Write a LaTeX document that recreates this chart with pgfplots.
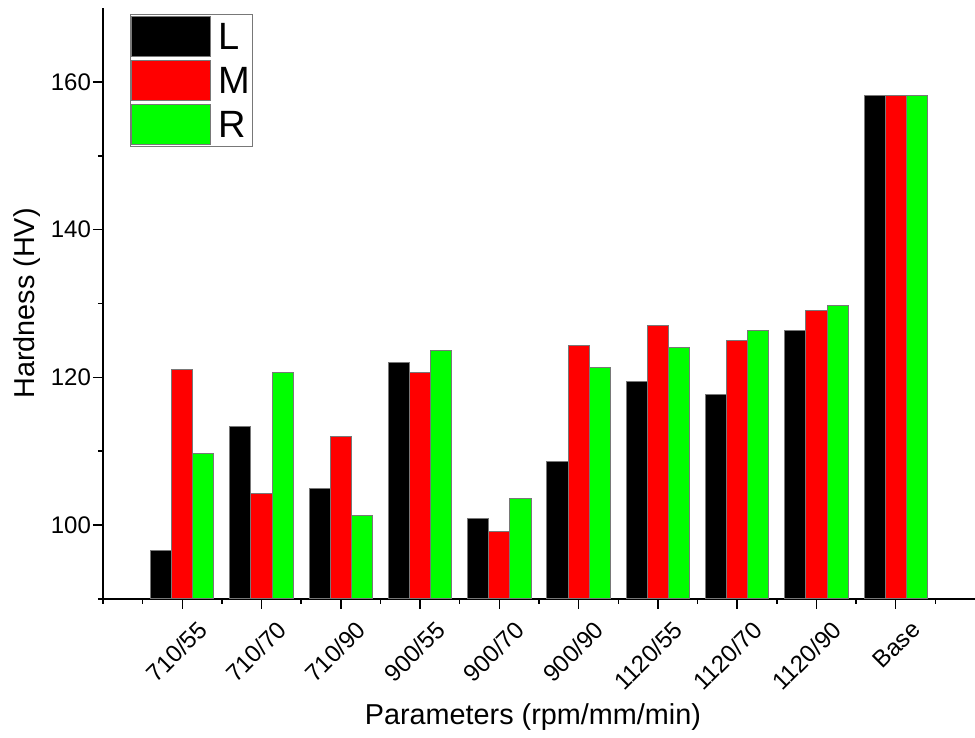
\documentclass[border=0pt]{standalone}
\usepackage{pgfplots}
\pgfplotsset{compat=1.18}
\usepackage{fontspec}
\setmainfont{Liberation Sans}
\definecolor{myred}{RGB}{255,0,0}
\definecolor{mygreen}{RGB}{0,255,0}
\definecolor{edge}{RGB}{120,120,120}
\pgfplotsset{mylegend/.style={legend image code/.code={%
    \path[draw=none, fill=none] (0pt,-11pt) rectangle (40pt,11pt);
    \path[fill=#1, draw=edge, line width=0.4pt] (0.5pt,-9.8pt) rectangle (40pt,9.8pt);}}}
\begin{document}
\begin{tikzpicture}
\useasboundingbox (-51.5pt,-69.5pt) rectangle (436pt,299.5pt);
\begin{axis}[
  scale only axis, width=436pt, height=295.5pt,
  at={(0,0)}, anchor=south west,
  xmin=0, xmax=11, ymin=90, ymax=170,
  axis x line*=bottom, axis y line*=left,
  axis line style={line width=0.75pt, -},
  ybar=0pt, bar width=0.2667,
  xtick={1,2,3,4,5,6,7,8,9,10},
  xticklabels={710/55,710/70,710/90,900/55,900/70,900/90,1120/55,1120/70,1120/90,Base},
  minor xtick={0,0.5,1.5,2.5,3.5,4.5,5.5,6.5,7.5,8.5,9.5,10.5},
  ytick={100,120,140,160}, minor ytick={90,110,130,150},
  tick align=outside, major tick length=5pt, minor tick length=2.5pt,
  tick style={line width=0.75pt, black},
  xticklabel style={rotate=45, anchor=north east, inner sep=2pt, xshift=3.5pt, yshift=-6.5pt, font=\fontsize{12}{14}\selectfont},
  yticklabel style={xshift=2.5pt, font=\fontsize{12}{14}\selectfont},
  /pgf/number format/assume math mode=true,
  xlabel={Parameters (rpm/mm/min)},
  ylabel={Hardness (HV)},
  every axis x label/.style={at={(axis description cs:0.493,-0.1997)}, anchor=center, font=\fontsize{14.4}{16}\selectfont},
  every axis y label/.style={at={(axis description cs:-0.0872,0.5)}, rotate=90, anchor=center, font=\fontsize{14.4}{16}\selectfont},
  legend style={at={(0.031,0.99)}, anchor=north west, draw=edge, line width=0.5pt,
    inner xsep=0pt, inner ysep=0pt, nodes={inner sep=0pt, text depth=0pt, anchor=west},
    row sep=0pt, font=\fontsize{19}{22}\selectfont},
  legend cell align=left,
]
\addplot[fill=black, draw=edge, line width=0.5pt, mylegend=black] coordinates {
  (1,96.6) (2,113.3) (3,105.0) (4,122.0) (5,100.9) (6,108.6) (7,119.4) (8,117.7) (9,126.4) (10,158.1)};
\addplot[fill=myred, draw=edge, line width=0.5pt, mylegend=myred] coordinates {
  (1,121.0) (2,104.3) (3,112.0) (4,120.7) (5,99.1) (6,124.3) (7,127.0) (8,125.0) (9,129.0) (10,158.1)};
\addplot[fill=mygreen, draw=edge, line width=0.5pt, mylegend=mygreen] coordinates {
  (1,109.7) (2,120.7) (3,101.3) (4,123.7) (5,103.6) (6,121.3) (7,124.0) (8,126.3) (9,129.7) (10,158.1)};
\legend{\hspace*{4pt}L,\hspace*{4pt}M\hspace*{1pt},\hspace*{4pt}R}
\end{axis}
\end{tikzpicture}
\end{document}
